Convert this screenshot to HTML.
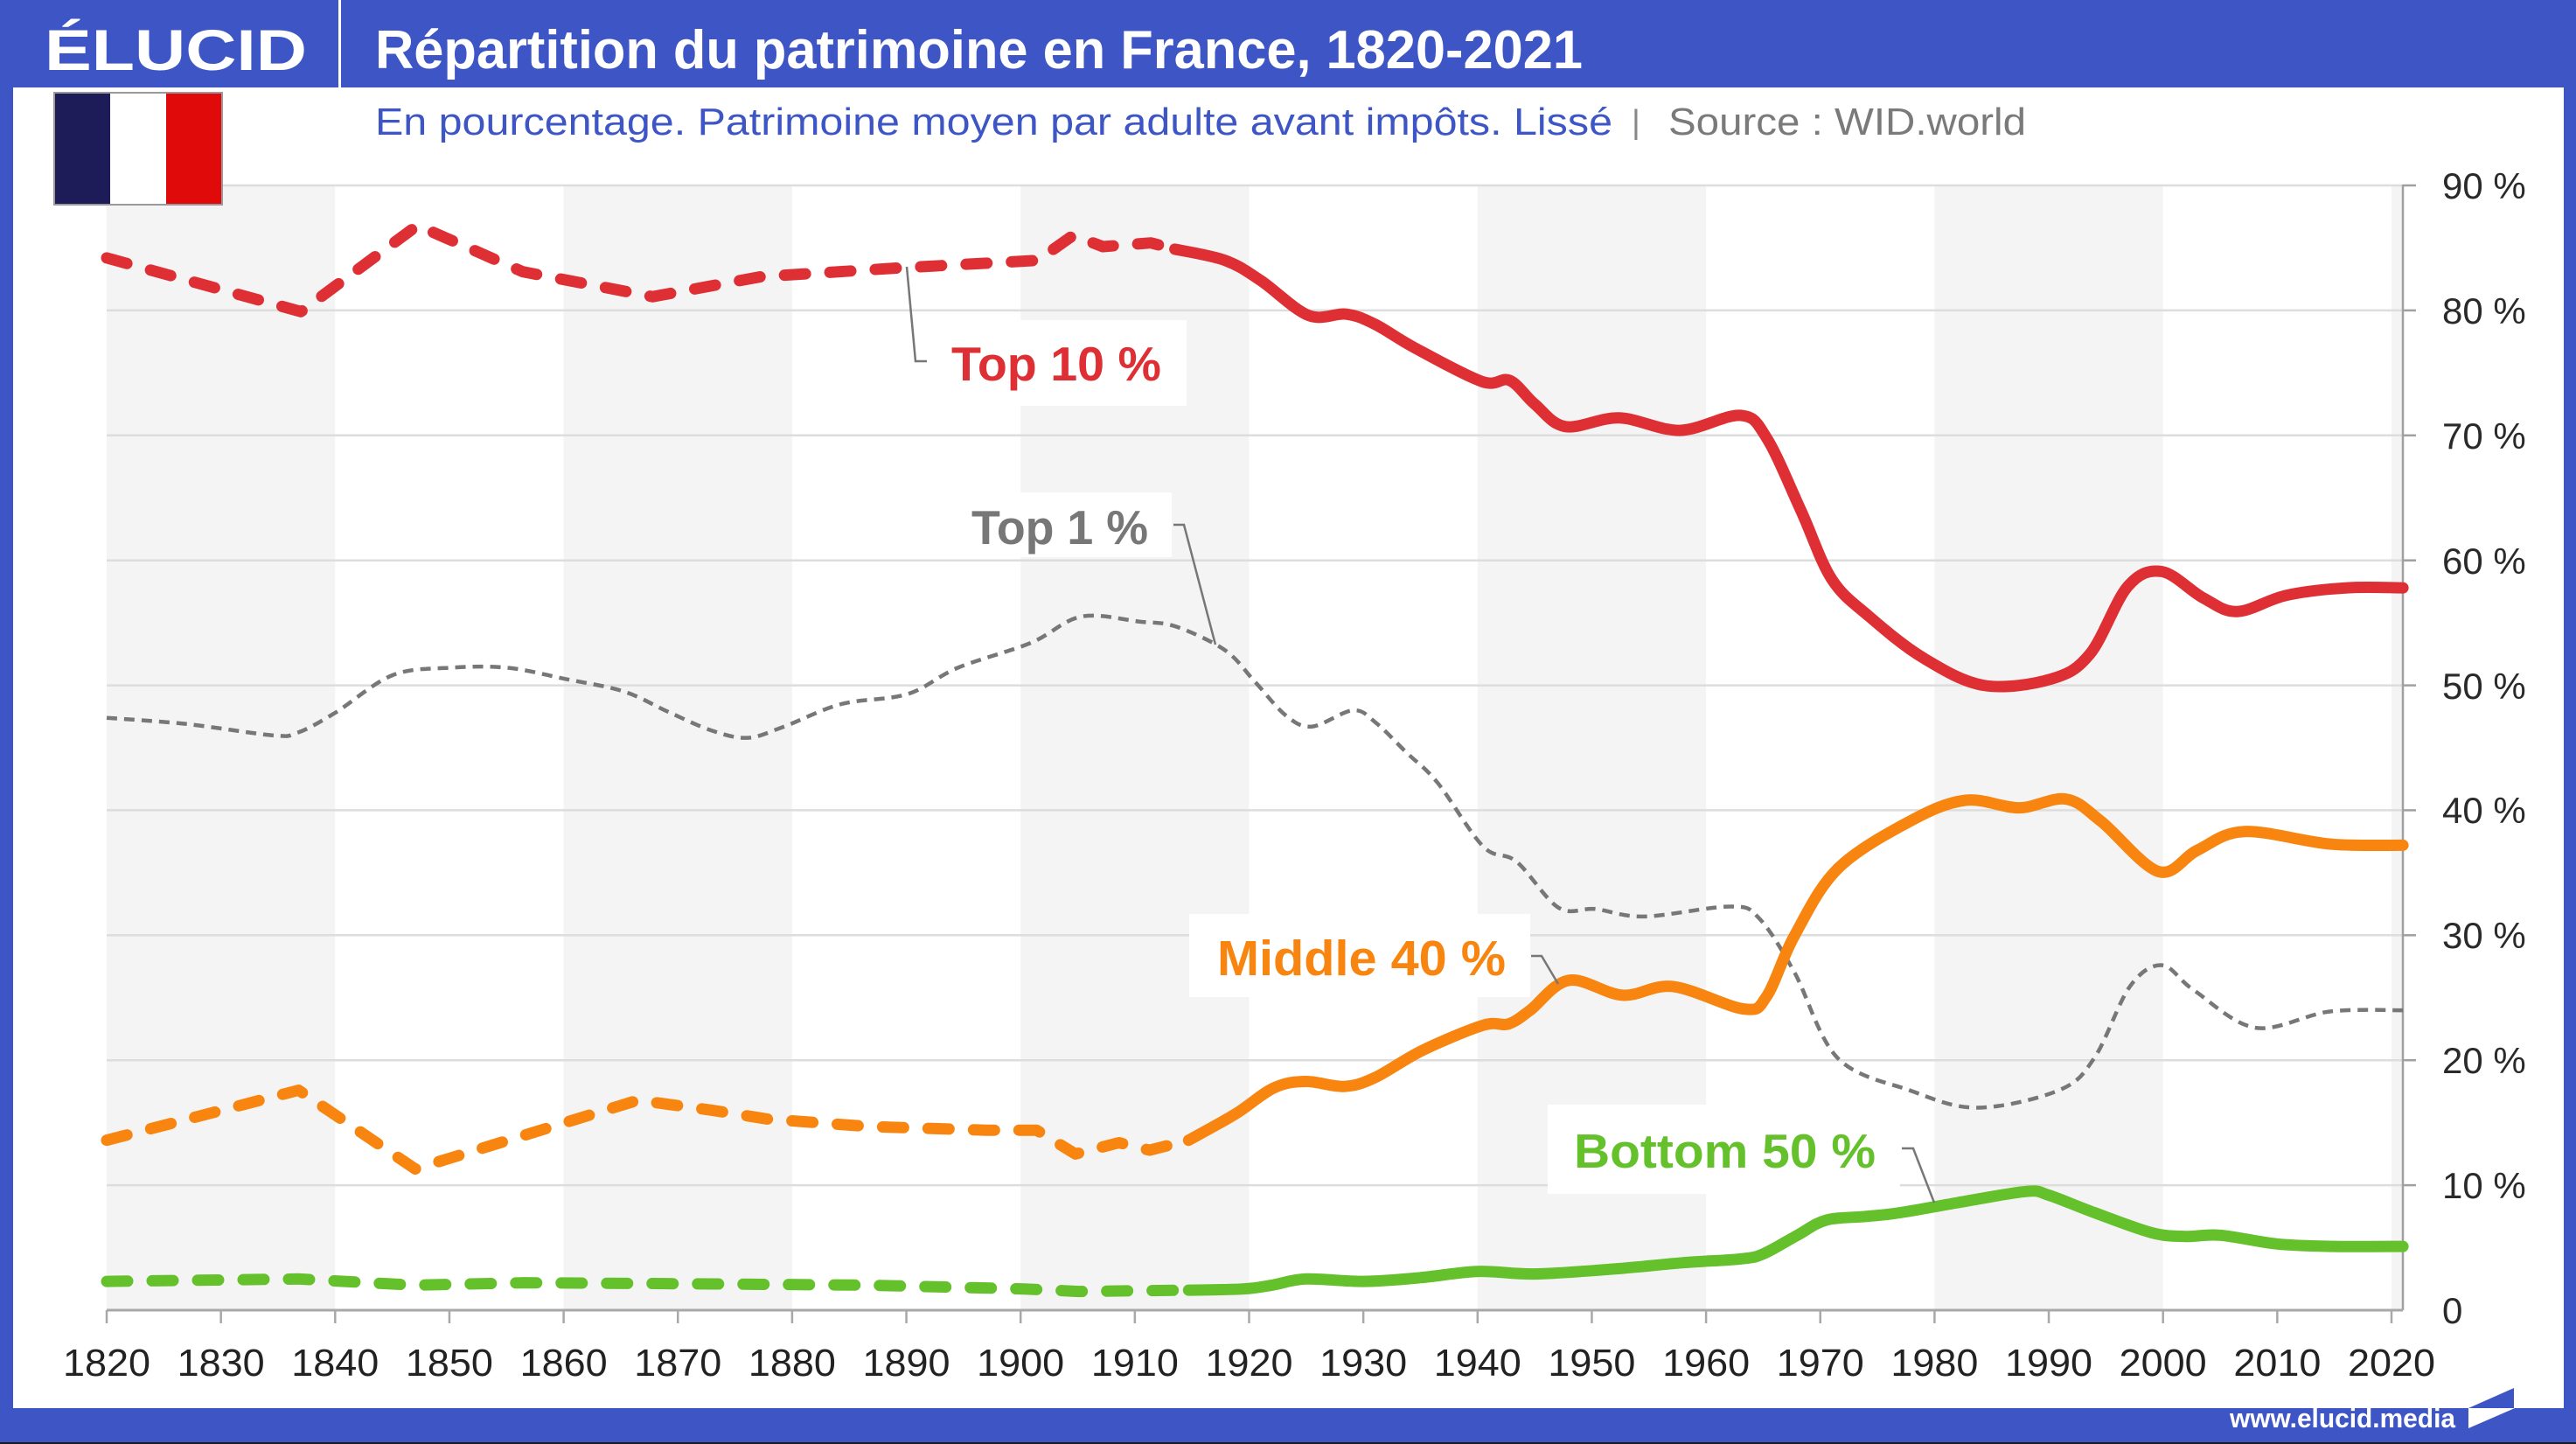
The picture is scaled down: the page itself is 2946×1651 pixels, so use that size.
<!DOCTYPE html>
<html>
<head>
<meta charset="utf-8">
<style>
html,body{margin:0;padding:0;background:#3e56c5;}
svg{display:block;}
</style>
</head>
<body>
<svg id="chart" width="2946" height="1651" viewBox="0 0 2946 1651" xmlns="http://www.w3.org/2000/svg" font-family="'Liberation Sans', sans-serif">
  <!-- frame -->
  <rect x="0" y="0" width="2946" height="1651" fill="#3e56c5"/>
  <rect x="15" y="100" width="2917" height="1510" fill="#ffffff"/>
  <rect x="0" y="1649" width="2946" height="2" fill="#1a1a1a"/>

  <!-- header -->
  <text x="51" y="80" font-size="66" font-weight="700" fill="#ffffff" textLength="300" lengthAdjust="spacingAndGlyphs">ÉLUCID</text>
  <rect x="387" y="0" width="3" height="100" fill="#ffffff"/>
  <text x="429" y="78" font-size="62" font-weight="700" fill="#ffffff" textLength="1381" lengthAdjust="spacingAndGlyphs">Répartition du patrimoine en France, 1820-2021</text>

  <!-- subtitle -->
  <text x="429" y="154" font-size="44" fill="#3e56c5" textLength="1415" lengthAdjust="spacingAndGlyphs">En pourcentage. Patrimoine moyen par adulte avant impôts. Lissé</text>
  <text x="1866" y="152" font-size="38" fill="#888888">|</text>
  <text x="1908" y="154" font-size="44" fill="#7a7a7a" textLength="409" lengthAdjust="spacingAndGlyphs">Source : WID.world</text>

  <!-- shaded bands -->
  <g fill="#f4f4f4">
    <rect x="122" y="212" width="261.3" height="1286"/>
    <rect x="644.6" y="212" width="261.3" height="1286"/>
    <rect x="1167.2" y="212" width="261.3" height="1286"/>
    <rect x="1689.8" y="212" width="261.3" height="1286"/>
    <rect x="2212.4" y="212" width="261.3" height="1286"/>
    <rect x="2735" y="212" width="13" height="1286"/>
  </g>

  <!-- gridlines -->
  <g stroke="#dddddd" stroke-width="2.5">
    <line x1="122" y1="212" x2="2748" y2="212"/>
    <line x1="122" y1="354.9" x2="2748" y2="354.9"/>
    <line x1="122" y1="497.8" x2="2748" y2="497.8"/>
    <line x1="122" y1="640.7" x2="2748" y2="640.7"/>
    <line x1="122" y1="783.6" x2="2748" y2="783.6"/>
    <line x1="122" y1="926.4" x2="2748" y2="926.4"/>
    <line x1="122" y1="1069.3" x2="2748" y2="1069.3"/>
    <line x1="122" y1="1212.2" x2="2748" y2="1212.2"/>
    <line x1="122" y1="1355.1" x2="2748" y2="1355.1"/>
  </g>

  <!-- label boxes -->
  <g fill="#ffffff">
    <rect x="1053" y="366" width="304" height="98"/>
    <rect x="1090" y="563" width="250" height="74"/>
    <rect x="1360" y="1045" width="390" height="95"/>
    <rect x="1770" y="1263" width="403" height="102"/>
  </g>

  <!-- y axis -->
  <g stroke="#a0a0a0" stroke-width="2.5">
    <line x1="2748" y1="211" x2="2748" y2="1498"/>
    <line x1="2748" y1="212" x2="2763" y2="212"/>
    <line x1="2748" y1="354.9" x2="2763" y2="354.9"/>
    <line x1="2748" y1="497.8" x2="2763" y2="497.8"/>
    <line x1="2748" y1="640.7" x2="2763" y2="640.7"/>
    <line x1="2748" y1="783.6" x2="2763" y2="783.6"/>
    <line x1="2748" y1="926.4" x2="2763" y2="926.4"/>
    <line x1="2748" y1="1069.3" x2="2763" y2="1069.3"/>
    <line x1="2748" y1="1212.2" x2="2763" y2="1212.2"/>
    <line x1="2748" y1="1355.1" x2="2763" y2="1355.1"/>
  </g>
  <g font-size="42" fill="#2a2a2a">
    <text x="2793" y="227">90 %</text>
    <text x="2793" y="370">80 %</text>
    <text x="2793" y="513">70 %</text>
    <text x="2793" y="656">60 %</text>
    <text x="2793" y="799">50 %</text>
    <text x="2793" y="941">40 %</text>
    <text x="2793" y="1084">30 %</text>
    <text x="2793" y="1227">20 %</text>
    <text x="2793" y="1370">10 %</text>
    <text x="2793" y="1513">0</text>
  </g>

  <!-- x axis -->
  <g stroke="#a8a8a8" stroke-width="3">
    <line x1="122" y1="1498" x2="2748" y2="1498"/>
  </g>
  <g stroke="#a8a8a8" stroke-width="2.5">
    <line x1="122" y1="1498" x2="122" y2="1513"/>
    <line x1="252.65" y1="1498" x2="252.65" y2="1513"/>
    <line x1="383.3" y1="1498" x2="383.3" y2="1513"/>
    <line x1="513.95" y1="1498" x2="513.95" y2="1513"/>
    <line x1="644.6" y1="1498" x2="644.6" y2="1513"/>
    <line x1="775.25" y1="1498" x2="775.25" y2="1513"/>
    <line x1="905.9" y1="1498" x2="905.9" y2="1513"/>
    <line x1="1036.55" y1="1498" x2="1036.55" y2="1513"/>
    <line x1="1167.2" y1="1498" x2="1167.2" y2="1513"/>
    <line x1="1297.85" y1="1498" x2="1297.85" y2="1513"/>
    <line x1="1428.5" y1="1498" x2="1428.5" y2="1513"/>
    <line x1="1559.15" y1="1498" x2="1559.15" y2="1513"/>
    <line x1="1689.8" y1="1498" x2="1689.8" y2="1513"/>
    <line x1="1820.45" y1="1498" x2="1820.45" y2="1513"/>
    <line x1="1951.1" y1="1498" x2="1951.1" y2="1513"/>
    <line x1="2081.75" y1="1498" x2="2081.75" y2="1513"/>
    <line x1="2212.4" y1="1498" x2="2212.4" y2="1513"/>
    <line x1="2343.05" y1="1498" x2="2343.05" y2="1513"/>
    <line x1="2473.7" y1="1498" x2="2473.7" y2="1513"/>
    <line x1="2604.35" y1="1498" x2="2604.35" y2="1513"/>
    <line x1="2735" y1="1498" x2="2735" y2="1513"/>
  </g>
  <g font-size="44" fill="#222222" text-anchor="middle">
    <text x="122" y="1573" textLength="100" lengthAdjust="spacingAndGlyphs">1820</text>
    <text x="252.65" y="1573" textLength="100" lengthAdjust="spacingAndGlyphs">1830</text>
    <text x="383.3" y="1573" textLength="100" lengthAdjust="spacingAndGlyphs">1840</text>
    <text x="513.95" y="1573" textLength="100" lengthAdjust="spacingAndGlyphs">1850</text>
    <text x="644.6" y="1573" textLength="100" lengthAdjust="spacingAndGlyphs">1860</text>
    <text x="775.25" y="1573" textLength="100" lengthAdjust="spacingAndGlyphs">1870</text>
    <text x="905.9" y="1573" textLength="100" lengthAdjust="spacingAndGlyphs">1880</text>
    <text x="1036.55" y="1573" textLength="100" lengthAdjust="spacingAndGlyphs">1890</text>
    <text x="1167.2" y="1573" textLength="100" lengthAdjust="spacingAndGlyphs">1900</text>
    <text x="1297.85" y="1573" textLength="100" lengthAdjust="spacingAndGlyphs">1910</text>
    <text x="1428.5" y="1573" textLength="100" lengthAdjust="spacingAndGlyphs">1920</text>
    <text x="1559.15" y="1573" textLength="100" lengthAdjust="spacingAndGlyphs">1930</text>
    <text x="1689.8" y="1573" textLength="100" lengthAdjust="spacingAndGlyphs">1940</text>
    <text x="1820.45" y="1573" textLength="100" lengthAdjust="spacingAndGlyphs">1950</text>
    <text x="1951.1" y="1573" textLength="100" lengthAdjust="spacingAndGlyphs">1960</text>
    <text x="2081.75" y="1573" textLength="100" lengthAdjust="spacingAndGlyphs">1970</text>
    <text x="2212.4" y="1573" textLength="100" lengthAdjust="spacingAndGlyphs">1980</text>
    <text x="2343.05" y="1573" textLength="100" lengthAdjust="spacingAndGlyphs">1990</text>
    <text x="2473.7" y="1573" textLength="100" lengthAdjust="spacingAndGlyphs">2000</text>
    <text x="2604.35" y="1573" textLength="100" lengthAdjust="spacingAndGlyphs">2010</text>
    <text x="2735" y="1573" textLength="100" lengthAdjust="spacingAndGlyphs">2020</text>
  </g>

  <!-- series (generated) -->
  <g id="series" fill="none"></g>

  <!-- leader lines -->
  <g stroke="#777777" stroke-width="2.5" fill="none">
    <polyline points="1037,305 1047,413 1060,413"/>
    <polyline points="1342,600 1354,600 1390,737"/>
    <polyline points="1751,1093 1763,1093 1782,1125"/>
    <polyline points="2175,1313 2188,1313 2212,1375"/>
  </g>

  <!-- series labels -->
  <g font-weight="700">
    <text x="1088" y="435" font-size="55" fill="#de2f34" textLength="240" lengthAdjust="spacingAndGlyphs">Top 10 %</text>
    <text x="1111" y="622" font-size="55" fill="#777777" textLength="202" lengthAdjust="spacingAndGlyphs">Top 1 %</text>
    <text x="1392" y="1115" font-size="57" fill="#f7850f" textLength="330" lengthAdjust="spacingAndGlyphs">Middle 40 %</text>
    <text x="1800" y="1335" font-size="55" fill="#64c02b" textLength="345" lengthAdjust="spacingAndGlyphs">Bottom 50 %</text>
  </g>

  <!-- flag -->
  <rect x="61" y="105" width="194" height="130" fill="#9a9a9a"/>
  <rect x="63" y="107" width="63" height="126" fill="#1d1b58"/>
  <rect x="126" y="107" width="64" height="126" fill="#ffffff"/>
  <rect x="190" y="107" width="63" height="126" fill="#e10a0a"/>

  <!-- footer -->
  <text x="2550" y="1632" font-size="31" font-weight="700" fill="#ffffff" textLength="258" lengthAdjust="spacingAndGlyphs">www.elucid.media</text>
  <polygon points="2823,1610 2875,1587 2875,1610" fill="#3e56c5"/>
  <polygon points="2823,1610 2876,1610 2823,1633" fill="#ffffff"/>
</svg>

<script>
(function(){
  var NS="http://www.w3.org/2000/svg";
  function P(d){return [122+(d[0]-1820)*13.065, 1498-d[1]*14.289];}
  function lin(data){
    var pts=data.map(P);
    return 'M'+pts.map(function(p){return p[0].toFixed(1)+','+p[1].toFixed(1);}).join(' L');
  }
  function smooth(data){
    var pts=data.map(P);
    var d='M'+pts[0][0].toFixed(1)+','+pts[0][1].toFixed(1);
    for(var i=0;i<pts.length-1;i++){
      var p0=pts[i-1]||pts[i], p1=pts[i], p2=pts[i+1], p3=pts[i+2]||pts[i+1];
      var c1=[p1[0]+(p2[0]-p0[0])/6, p1[1]+(p2[1]-p0[1])/6];
      var c2=[p2[0]-(p3[0]-p1[0])/6, p2[1]-(p3[1]-p1[1])/6];
      d+=' C'+c1[0].toFixed(1)+','+c1[1].toFixed(1)+' '+c2[0].toFixed(1)+','+c2[1].toFixed(1)+' '+p2[0].toFixed(1)+','+p2[1].toFixed(1);
    }
    return d;
  }
  var g=document.getElementById('series');
  function add(d,color,w,dash,cap){
    var p=document.createElementNS(NS,'path');
    p.setAttribute('d',d);
    p.setAttribute('stroke',color);
    p.setAttribute('stroke-width',w);
    p.setAttribute('fill','none');
    p.setAttribute('stroke-linejoin','round');
    p.setAttribute('stroke-linecap',cap||'round');
    if(dash) p.setAttribute('stroke-dasharray',dash);
    g.appendChild(p);
  }
  var RED="#de2f34", ORA="#f7850f", GRN="#64c02b", GRY="#777777";

  // Top 1 % (thin dashed gray)
  var top1=[[1820,47.4],[1827,46.9],[1834.5,46.0],[1836.7,46.2],[1840,47.8],[1845,50.8],[1850,51.4],[1855.1,51.4],[1860.2,50.5],[1865.3,49.5],[1869.1,47.9],[1872.9,46.4],[1876.1,45.8],[1879.3,46.7],[1884.3,48.5],[1890.1,49.3],[1894.5,51.4],[1900.9,53.4],[1905.3,55.5],[1910.4,55.1],[1913.6,54.7],[1917.9,52.8],[1920.5,50.3],[1923.2,47.6],[1925.5,46.7],[1929.1,48.0],[1931.1,47.0],[1933.8,44.6],[1936.5,42.2],[1940.5,37.1],[1943.4,35.9],[1947.1,32.2],[1950.3,32.1],[1954.6,31.5],[1962.1,32.3],[1964.6,31.4],[1967.7,27.1],[1971.5,20.2],[1977.8,17.6],[1983.7,16.2],[1990.9,17.6],[1994,20.2],[1997.1,25.9],[1999.9,27.6],[2002.7,25.6],[2008.1,22.6],[2014.6,23.9],[2021,24.0]];
  add(smooth(top1),GRY,4.5,"12 8","butt");

  // Top 10 %
  var r1=[[1820,84.2],[1837,79.9],[1847.2,86.8],[1856.4,83.1],[1867.8,81.1],[1877.3,82.7],[1889.4,83.4],[1901.5,84.0],[1904.6,86.0],[1907.2,85.1],[1911.4,85.4],[1913.5,84.9]];
  var r2=[[1913.5,84.9],[1917.9,84.0],[1921,82.4],[1925.2,79.6],[1928.5,79.7],[1931,78.9],[1934.5,77.0],[1940.4,74.3],[1942.8,74.4],[1945,72.5],[1947.7,70.7],[1952.4,71.4],[1957.7,70.4],[1963.0,71.6],[1965.3,69.8],[1968.3,64.0],[1971.0,58.5],[1974.3,55.5],[1979.0,52.2],[1984.3,50.0],[1990.2,50.5],[1993.6,52.5],[1996.9,57.9],[1999.9,59.1],[2003.5,57.0],[2006.5,55.9],[2010.8,57.2],[2016.1,57.8],[2021,57.8]];
  add(lin(r1),RED,13,"24 28");
  add(smooth(r2),RED,13);

  // Middle 40 %
  var o1=[[1820,13.6],[1836.8,17.6],[1847,11.3],[1866.5,16.8],[1873,16.0],[1877.8,15.3],[1886.7,14.7],[1897,14.4],[1901.4,14.4],[1904.8,12.5],[1908.6,13.4],[1911.3,12.8],[1914.7,13.6]];
  var o2=[[1914.7,13.6],[1918.8,15.7],[1922.2,17.8],[1925,18.3],[1928.3,17.9],[1931,18.6],[1935.2,20.8],[1940.5,22.8],[1942.7,22.9],[1944.6,24.0],[1948.0,26.4],[1952.7,25.2],[1957.1,25.9],[1963.3,24.1],[1965.3,25.1],[1967.7,29.9],[1971.5,35.3],[1977.8,39.1],[1982.7,40.8],[1987.4,40.2],[1991.5,40.9],[1994.6,39.1],[1999.6,35.1],[2003,36.8],[2007.1,38.3],[2014.6,37.3],[2021,37.2]];
  add(lin(o1),ORA,13,"24 28");
  add(smooth(o2),ORA,13);

  // Bottom 50 %
  var g1=[[1820,2.3],[1836.8,2.5],[1847,2.0],[1856.6,2.2],[1873,2.1],[1886.7,2.0],[1900.3,1.7],[1905.1,1.5],[1914.7,1.6]];
  var g2=[[1914.7,1.6],[1919.5,1.7],[1922,2.0],[1925,2.5],[1930,2.3],[1935,2.6],[1940,3.1],[1945,2.9],[1952,3.3],[1958,3.8],[1963,4.1],[1965,4.5],[1968,6.0],[1970.5,7.2],[1974,7.5],[1977,7.8],[1982,8.6],[1988,9.5],[1990,9.2],[1994,7.8],[1999,6.2],[2002,5.9],[2005,6.0],[2010,5.3],[2015,5.1],[2021,5.1]];
  add(lin(g1),GRN,13,"24 28");
  add(smooth(g2),GRN,13);
})();
</script>
</body>
</html>
